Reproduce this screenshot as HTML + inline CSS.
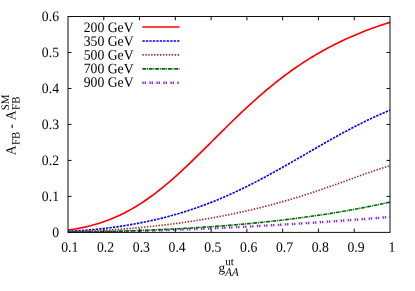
<!DOCTYPE html>
<html><head><meta charset="utf-8"><title>plot</title>
<style>
html,body{margin:0;padding:0;background:#fff;}
svg{display:block;will-change:transform;}
text{font-family:"Liberation Serif",serif;font-size:13.33px;fill:#000;}
</style></head><body>
<svg width="415" height="291" viewBox="0 0 415 291">
<rect width="415" height="291" fill="#fff"/>

<g transform="translate(69.80,251.75) matrix(1.03,0.0006,0,1.075,0,0)"><text text-anchor="middle">0.1</text></g>
<g transform="translate(105.58,251.75) matrix(1.03,0.0006,0,1.075,0,0)"><text text-anchor="middle">0.2</text></g>
<g transform="translate(141.36,251.75) matrix(1.03,0.0006,0,1.075,0,0)"><text text-anchor="middle">0.3</text></g>
<g transform="translate(177.13,251.75) matrix(1.03,0.0006,0,1.075,0,0)"><text text-anchor="middle">0.4</text></g>
<g transform="translate(212.91,251.75) matrix(1.03,0.0006,0,1.075,0,0)"><text text-anchor="middle">0.5</text></g>
<g transform="translate(248.69,251.75) matrix(1.03,0.0006,0,1.075,0,0)"><text text-anchor="middle">0.6</text></g>
<g transform="translate(284.47,251.75) matrix(1.03,0.0006,0,1.075,0,0)"><text text-anchor="middle">0.7</text></g>
<g transform="translate(320.24,251.75) matrix(1.03,0.0006,0,1.075,0,0)"><text text-anchor="middle">0.8</text></g>
<g transform="translate(356.02,251.75) matrix(1.03,0.0006,0,1.075,0,0)"><text text-anchor="middle">0.9</text></g>
<g transform="translate(391.80,251.75) matrix(1.03,0.0006,0,1.075,0,0)"><text text-anchor="middle">1</text></g>
<g transform="translate(59.00,236.90) matrix(1.03,0.0006,0,1.075,0,0)"><text text-anchor="end">0</text></g>
<g transform="translate(59.00,200.92) matrix(1.03,0.0006,0,1.075,0,0)"><text text-anchor="end">0.1</text></g>
<g transform="translate(59.00,164.93) matrix(1.03,0.0006,0,1.075,0,0)"><text text-anchor="end">0.2</text></g>
<g transform="translate(59.00,128.95) matrix(1.03,0.0006,0,1.075,0,0)"><text text-anchor="end">0.3</text></g>
<g transform="translate(59.00,92.97) matrix(1.03,0.0006,0,1.075,0,0)"><text text-anchor="end">0.4</text></g>
<g transform="translate(59.00,56.98) matrix(1.03,0.0006,0,1.075,0,0)"><text text-anchor="end">0.5</text></g>
<g transform="translate(59.00,21.00) matrix(1.03,0.0006,0,1.075,0,0)"><text text-anchor="end">0.6</text></g>
<g transform="translate(133.60,32.05) matrix(1.03,0.0006,0,1.075,0,0)"><text text-anchor="end">200 GeV</text></g>
<line x1="142.4" y1="27.00" x2="179.5" y2="27.00" stroke="#ff0000" stroke-width="1.65"/>
<g transform="translate(133.60,45.75) matrix(1.03,0.0006,0,1.075,0,0)"><text text-anchor="end">350 GeV</text></g>
<line x1="142.4" y1="40.95" x2="179.5" y2="40.95" stroke="#0000ff" stroke-width="1.65" stroke-dasharray="2.35 1.12"/>
<g transform="translate(133.60,59.45) matrix(1.03,0.0006,0,1.075,0,0)"><text text-anchor="end">500 GeV</text></g>
<line x1="142.4" y1="54.90" x2="179.5" y2="54.90" stroke="#a52a2a" stroke-width="1.65" stroke-dasharray="1.4 1.53"/>
<g transform="translate(133.60,73.15) matrix(1.03,0.0006,0,1.075,0,0)"><text text-anchor="end">700 GeV</text></g>
<line x1="142.4" y1="68.85" x2="179.5" y2="68.85" stroke="#006400" stroke-width="1.6" stroke-dasharray="3.8 0.8 1.0 0.8"/>
<g transform="translate(133.60,86.85) matrix(1.03,0.0006,0,1.075,0,0)"><text text-anchor="end">900 GeV</text></g>
<line x1="142.4" y1="82.80" x2="179.5" y2="82.80" stroke="#8a2be2" stroke-width="2.4" stroke-dasharray="1.4 0.8 1.4 3.4"/>
<defs><clipPath id="pc"><rect x="68.0" y="16.5" width="322.0" height="216.3"/></clipPath></defs>
<g clip-path="url(#pc)">
<path d="M68.00,230.09 L69.79,229.84 L71.58,229.57 L73.37,229.29 L75.16,228.99 L76.94,228.68 L78.73,228.35 L80.52,228.00 L82.31,227.63 L84.10,227.25 L85.89,226.85 L87.68,226.43 L89.47,225.99 L91.26,225.53 L93.04,225.05 L94.83,224.55 L96.62,224.03 L98.41,223.49 L100.20,222.92 L101.99,222.34 L103.78,221.73 L105.57,221.09 L107.36,220.44 L109.14,219.76 L110.93,219.06 L112.72,218.33 L114.51,217.57 L116.30,216.80 L118.09,215.99 L119.88,215.16 L121.67,214.31 L123.46,213.43 L125.24,212.52 L127.03,211.59 L128.82,210.63 L130.61,209.64 L132.40,208.62 L134.19,207.58 L135.98,206.52 L137.77,205.42 L139.56,204.30 L141.34,203.15 L143.13,201.98 L144.92,200.78 L146.71,199.55 L148.50,198.30 L150.29,197.02 L152.08,195.72 L153.87,194.39 L155.66,193.04 L157.44,191.66 L159.23,190.26 L161.02,188.83 L162.81,187.39 L164.60,185.92 L166.39,184.43 L168.18,182.92 L169.97,181.38 L171.76,179.83 L173.54,178.26 L175.33,176.67 L177.12,175.06 L178.91,173.44 L180.70,171.80 L182.49,170.14 L184.28,168.47 L186.07,166.79 L187.86,165.09 L189.64,163.39 L191.43,161.67 L193.22,159.94 L195.01,158.20 L196.80,156.45 L198.59,154.69 L200.38,152.93 L202.17,151.16 L203.96,149.39 L205.74,147.61 L207.53,145.83 L209.32,144.05 L211.11,142.27 L212.90,140.48 L214.69,138.70 L216.48,136.91 L218.27,135.13 L220.06,133.35 L221.84,131.57 L223.63,129.80 L225.42,128.03 L227.21,126.27 L229.00,124.51 L230.79,122.76 L232.58,121.02 L234.37,119.28 L236.16,117.55 L237.94,115.84 L239.73,114.13 L241.52,112.43 L243.31,110.75 L245.10,109.07 L246.89,107.41 L248.68,105.76 L250.47,104.12 L252.26,102.49 L254.04,100.88 L255.83,99.28 L257.62,97.70 L259.41,96.13 L261.20,94.57 L262.99,93.03 L264.78,91.50 L266.57,89.99 L268.36,88.50 L270.14,87.02 L271.93,85.55 L273.72,84.11 L275.51,82.68 L277.30,81.26 L279.09,79.86 L280.88,78.48 L282.67,77.11 L284.46,75.77 L286.24,74.43 L288.03,73.12 L289.82,71.82 L291.61,70.53 L293.40,69.27 L295.19,68.02 L296.98,66.78 L298.77,65.57 L300.56,64.37 L302.34,63.18 L304.13,62.02 L305.92,60.86 L307.71,59.73 L309.50,58.61 L311.29,57.50 L313.08,56.42 L314.87,55.34 L316.66,54.29 L318.44,53.24 L320.23,52.22 L322.02,51.21 L323.81,50.21 L325.60,49.23 L327.39,48.26 L329.18,47.31 L330.97,46.37 L332.76,45.45 L334.54,44.53 L336.33,43.64 L338.12,42.76 L339.91,41.89 L341.70,41.03 L343.49,40.19 L345.28,39.36 L347.07,38.54 L348.86,37.74 L350.64,36.94 L352.43,36.17 L354.22,35.40 L356.01,34.64 L357.80,33.90 L359.59,33.17 L361.38,32.45 L363.17,31.74 L364.96,31.04 L366.74,30.35 L368.53,29.67 L370.32,29.01 L372.11,28.35 L373.90,27.71 L375.69,27.07 L377.48,26.45 L379.27,25.83 L381.06,25.23 L382.84,24.63 L384.63,24.04 L386.42,23.47 L388.21,22.90 L390.00,22.34" fill="none" stroke="#ff0000" stroke-width="1.65"/>
<path d="M68.00,231.45 L69.79,231.35 L71.58,231.25 L73.37,231.14 L75.16,231.03 L76.94,230.91 L78.73,230.79 L80.52,230.66 L82.31,230.52 L84.10,230.38 L85.89,230.24 L87.68,230.08 L89.47,229.93 L91.26,229.77 L93.04,229.60 L94.83,229.42 L96.62,229.24 L98.41,229.06 L100.20,228.87 L101.99,228.67 L103.78,228.47 L105.57,228.26 L107.36,228.04 L109.14,227.82 L110.93,227.59 L112.72,227.36 L114.51,227.12 L116.30,226.87 L118.09,226.62 L119.88,226.36 L121.67,226.09 L123.46,225.81 L125.24,225.53 L127.03,225.25 L128.82,224.95 L130.61,224.65 L132.40,224.34 L134.19,224.02 L135.98,223.70 L137.77,223.36 L139.56,223.03 L141.34,222.68 L143.13,222.32 L144.92,221.96 L146.71,221.59 L148.50,221.21 L150.29,220.83 L152.08,220.43 L153.87,220.03 L155.66,219.62 L157.44,219.20 L159.23,218.77 L161.02,218.33 L162.81,217.89 L164.60,217.44 L166.39,216.97 L168.18,216.50 L169.97,216.02 L171.76,215.53 L173.54,215.03 L175.33,214.53 L177.12,214.01 L178.91,213.48 L180.70,212.95 L182.49,212.40 L184.28,211.85 L186.07,211.29 L187.86,210.71 L189.64,210.13 L191.43,209.54 L193.22,208.94 L195.01,208.33 L196.80,207.71 L198.59,207.08 L200.38,206.43 L202.17,205.78 L203.96,205.12 L205.74,204.46 L207.53,203.78 L209.32,203.09 L211.11,202.39 L212.90,201.68 L214.69,200.96 L216.48,200.23 L218.27,199.50 L220.06,198.75 L221.84,197.99 L223.63,197.22 L225.42,196.45 L227.21,195.66 L229.00,194.87 L230.79,194.06 L232.58,193.25 L234.37,192.43 L236.16,191.60 L237.94,190.76 L239.73,189.91 L241.52,189.05 L243.31,188.18 L245.10,187.31 L246.89,186.42 L248.68,185.53 L250.47,184.63 L252.26,183.73 L254.04,182.81 L255.83,181.89 L257.62,180.96 L259.41,180.02 L261.20,179.08 L262.99,178.13 L264.78,177.17 L266.57,176.20 L268.36,175.24 L270.14,174.26 L271.93,173.28 L273.72,172.29 L275.51,171.30 L277.30,170.30 L279.09,169.30 L280.88,168.29 L282.67,167.28 L284.46,166.27 L286.24,165.25 L288.03,164.23 L289.82,163.21 L291.61,162.18 L293.40,161.15 L295.19,160.12 L296.98,159.09 L298.77,158.05 L300.56,157.02 L302.34,155.98 L304.13,154.94 L305.92,153.91 L307.71,152.87 L309.50,151.83 L311.29,150.79 L313.08,149.76 L314.87,148.72 L316.66,147.69 L318.44,146.66 L320.23,145.63 L322.02,144.61 L323.81,143.58 L325.60,142.56 L327.39,141.55 L329.18,140.53 L330.97,139.53 L332.76,138.52 L334.54,137.52 L336.33,136.53 L338.12,135.54 L339.91,134.55 L341.70,133.57 L343.49,132.60 L345.28,131.64 L347.07,130.68 L348.86,129.72 L350.64,128.78 L352.43,127.84 L354.22,126.91 L356.01,125.99 L357.80,125.07 L359.59,124.16 L361.38,123.27 L363.17,122.38 L364.96,121.49 L366.74,120.62 L368.53,119.76 L370.32,118.90 L372.11,118.06 L373.90,117.23 L375.69,116.40 L377.48,115.58 L379.27,114.78 L381.06,113.98 L382.84,113.20 L384.63,112.42 L386.42,111.66 L388.21,110.91 L390.00,110.16" fill="none" stroke="#0000ff" stroke-width="1.65" stroke-dasharray="2.35 1.12"/>
<path d="M68.00,231.88 L69.79,231.83 L71.58,231.77 L73.37,231.71 L75.16,231.65 L76.94,231.59 L78.73,231.52 L80.52,231.45 L82.31,231.38 L84.10,231.30 L85.89,231.23 L87.68,231.15 L89.47,231.06 L91.26,230.98 L93.04,230.89 L94.83,230.80 L96.62,230.70 L98.41,230.61 L100.20,230.51 L101.99,230.40 L103.78,230.30 L105.57,230.19 L107.36,230.08 L109.14,229.96 L110.93,229.85 L112.72,229.73 L114.51,229.60 L116.30,229.48 L118.09,229.35 L119.88,229.22 L121.67,229.08 L123.46,228.95 L125.24,228.81 L127.03,228.66 L128.82,228.51 L130.61,228.36 L132.40,228.21 L134.19,228.06 L135.98,227.90 L137.77,227.73 L139.56,227.57 L141.34,227.40 L143.13,227.23 L144.92,227.05 L146.71,226.87 L148.50,226.69 L150.29,226.51 L152.08,226.32 L153.87,226.13 L155.66,225.93 L157.44,225.73 L159.23,225.53 L161.02,225.32 L162.81,225.12 L164.60,224.90 L166.39,224.69 L168.18,224.47 L169.97,224.24 L171.76,224.02 L173.54,223.79 L175.33,223.55 L177.12,223.32 L178.91,223.07 L180.70,222.83 L182.49,222.58 L184.28,222.33 L186.07,222.07 L187.86,221.81 L189.64,221.54 L191.43,221.28 L193.22,221.00 L195.01,220.73 L196.80,220.45 L198.59,220.16 L200.38,219.87 L202.17,219.58 L203.96,219.28 L205.74,218.98 L207.53,218.68 L209.32,218.37 L211.11,218.06 L212.90,217.74 L214.69,217.41 L216.48,217.09 L218.27,216.76 L220.06,216.42 L221.84,216.08 L223.63,215.74 L225.42,215.39 L227.21,215.03 L229.00,214.68 L230.79,214.31 L232.58,213.94 L234.37,213.57 L236.16,213.20 L237.94,212.81 L239.73,212.43 L241.52,212.04 L243.31,211.64 L245.10,211.24 L246.89,210.83 L248.68,210.42 L250.47,210.01 L252.26,209.59 L254.04,209.16 L255.83,208.73 L257.62,208.29 L259.41,207.85 L261.20,207.41 L262.99,206.95 L264.78,206.50 L266.57,206.04 L268.36,205.57 L270.14,205.10 L271.93,204.62 L273.72,204.14 L275.51,203.65 L277.30,203.16 L279.09,202.66 L280.88,202.16 L282.67,201.65 L284.46,201.14 L286.24,200.62 L288.03,200.10 L289.82,199.57 L291.61,199.04 L293.40,198.50 L295.19,197.96 L296.98,197.41 L298.77,196.86 L300.56,196.30 L302.34,195.74 L304.13,195.17 L305.92,194.60 L307.71,194.02 L309.50,193.44 L311.29,192.85 L313.08,192.26 L314.87,191.67 L316.66,191.07 L318.44,190.47 L320.23,189.86 L322.02,189.25 L323.81,188.63 L325.60,188.02 L327.39,187.39 L329.18,186.77 L330.97,186.14 L332.76,185.51 L334.54,184.88 L336.33,184.24 L338.12,183.61 L339.91,182.97 L341.70,182.32 L343.49,181.68 L345.28,181.04 L347.07,180.39 L348.86,179.75 L350.64,179.10 L352.43,178.45 L354.22,177.81 L356.01,177.16 L357.80,176.52 L359.59,175.88 L361.38,175.24 L363.17,174.60 L364.96,173.96 L366.74,173.33 L368.53,172.70 L370.32,172.08 L372.11,171.46 L373.90,170.85 L375.69,170.24 L377.48,169.64 L379.27,169.05 L381.06,168.46 L382.84,167.88 L384.63,167.31 L386.42,166.75 L388.21,166.21 L390.00,165.67" fill="none" stroke="#a52a2a" stroke-width="1.65" stroke-dasharray="1.4 1.53"/>
<path d="M68.00,232.24 L69.79,232.22 L71.58,232.20 L73.37,232.18 L75.16,232.17 L76.94,232.15 L78.73,232.12 L80.52,232.10 L82.31,232.08 L84.10,232.06 L85.89,232.03 L87.68,232.01 L89.47,231.98 L91.26,231.96 L93.04,231.93 L94.83,231.90 L96.62,231.87 L98.41,231.84 L100.20,231.81 L101.99,231.78 L103.78,231.75 L105.57,231.72 L107.36,231.68 L109.14,231.65 L110.93,231.61 L112.72,231.58 L114.51,231.54 L116.30,231.50 L118.09,231.46 L119.88,231.42 L121.67,231.38 L123.46,231.34 L125.24,231.30 L127.03,231.26 L128.82,231.22 L130.61,231.17 L132.40,231.13 L134.19,231.08 L135.98,231.03 L137.77,230.99 L139.56,230.94 L141.34,230.89 L143.13,230.84 L144.92,230.79 L146.71,230.74 L148.50,230.69 L150.29,230.63 L152.08,230.58 L153.87,230.53 L155.66,230.47 L157.44,230.42 L159.23,230.36 L161.02,230.30 L162.81,230.24 L164.60,230.18 L166.39,230.12 L168.18,230.06 L169.97,230.00 L171.76,229.94 L173.54,229.88 L175.33,229.81 L177.12,229.75 L178.91,229.68 L180.70,229.62 L182.49,229.55 L184.28,229.48 L186.07,229.42 L187.86,229.35 L189.64,229.28 L191.43,229.21 L193.22,229.13 L195.01,229.06 L196.80,228.99 L198.59,228.92 L200.38,228.84 L202.17,228.77 L203.96,228.69 L205.74,228.61 L207.53,228.54 L209.32,228.46 L211.11,228.38 L212.90,228.30 L214.69,228.22 L216.48,228.14 L218.27,228.06 L220.06,227.97 L221.84,227.89 L223.63,227.81 L225.42,227.72 L227.21,227.64 L229.00,227.55 L230.79,227.46 L232.58,227.37 L234.37,227.29 L236.16,227.20 L237.94,227.11 L239.73,227.02 L241.52,226.92 L243.31,226.83 L245.10,226.74 L246.89,226.65 L248.68,226.55 L250.47,226.46 L252.26,226.36 L254.04,226.26 L255.83,226.17 L257.62,226.07 L259.41,225.97 L261.20,225.87 L262.99,225.77 L264.78,225.67 L266.57,225.57 L268.36,225.47 L270.14,225.36 L271.93,225.26 L273.72,225.16 L275.51,225.05 L277.30,224.95 L279.09,224.84 L280.88,224.73 L282.67,224.63 L284.46,224.52 L286.24,224.41 L288.03,224.30 L289.82,224.19 L291.61,224.08 L293.40,223.97 L295.19,223.85 L296.98,223.74 L298.77,223.63 L300.56,223.51 L302.34,223.40 L304.13,223.28 L305.92,223.17 L307.71,223.05 L309.50,222.93 L311.29,222.81 L313.08,222.69 L314.87,222.57 L316.66,222.45 L318.44,222.33 L320.23,222.21 L322.02,222.09 L323.81,221.97 L325.60,221.84 L327.39,221.72 L329.18,221.59 L330.97,221.47 L332.76,221.34 L334.54,221.22 L336.33,221.09 L338.12,220.96 L339.91,220.83 L341.70,220.70 L343.49,220.57 L345.28,220.44 L347.07,220.31 L348.86,220.18 L350.64,220.05 L352.43,219.92 L354.22,219.78 L356.01,219.65 L357.80,219.52 L359.59,219.38 L361.38,219.24 L363.17,219.11 L364.96,218.97 L366.74,218.83 L368.53,218.70 L370.32,218.56 L372.11,218.42 L373.90,218.28 L375.69,218.14 L377.48,218.00 L379.27,217.86 L381.06,217.71 L382.84,217.57 L384.63,217.43 L386.42,217.29 L388.21,217.14 L390.00,217.00" fill="none" stroke="#8a2be2" stroke-width="2.4" stroke-dasharray="1.4 0.8 1.4 3.4"/>
<path d="M68.00,232.19 L69.79,232.17 L71.58,232.15 L73.37,232.13 L75.16,232.10 L76.94,232.08 L78.73,232.05 L80.52,232.02 L82.31,232.00 L84.10,231.97 L85.89,231.94 L87.68,231.90 L89.47,231.87 L91.26,231.84 L93.04,231.80 L94.83,231.77 L96.62,231.73 L98.41,231.69 L100.20,231.65 L101.99,231.61 L103.78,231.57 L105.57,231.52 L107.36,231.48 L109.14,231.43 L110.93,231.39 L112.72,231.34 L114.51,231.29 L116.30,231.24 L118.09,231.19 L119.88,231.14 L121.67,231.08 L123.46,231.03 L125.24,230.97 L127.03,230.92 L128.82,230.86 L130.61,230.80 L132.40,230.74 L134.19,230.68 L135.98,230.61 L137.77,230.55 L139.56,230.48 L141.34,230.41 L143.13,230.35 L144.92,230.28 L146.71,230.20 L148.50,230.13 L150.29,230.06 L152.08,229.98 L153.87,229.91 L155.66,229.83 L157.44,229.75 L159.23,229.67 L161.02,229.59 L162.81,229.50 L164.60,229.42 L166.39,229.33 L168.18,229.24 L169.97,229.16 L171.76,229.07 L173.54,228.97 L175.33,228.88 L177.12,228.78 L178.91,228.69 L180.70,228.59 L182.49,228.49 L184.28,228.39 L186.07,228.29 L187.86,228.18 L189.64,228.08 L191.43,227.97 L193.22,227.86 L195.01,227.75 L196.80,227.64 L198.59,227.52 L200.38,227.41 L202.17,227.29 L203.96,227.17 L205.74,227.05 L207.53,226.93 L209.32,226.80 L211.11,226.68 L212.90,226.55 L214.69,226.42 L216.48,226.29 L218.27,226.16 L220.06,226.02 L221.84,225.88 L223.63,225.75 L225.42,225.61 L227.21,225.46 L229.00,225.32 L230.79,225.17 L232.58,225.02 L234.37,224.87 L236.16,224.72 L237.94,224.57 L239.73,224.41 L241.52,224.25 L243.31,224.09 L245.10,223.93 L246.89,223.77 L248.68,223.60 L250.47,223.43 L252.26,223.26 L254.04,223.09 L255.83,222.92 L257.62,222.74 L259.41,222.56 L261.20,222.38 L262.99,222.19 L264.78,222.01 L266.57,221.82 L268.36,221.63 L270.14,221.44 L271.93,221.24 L273.72,221.05 L275.51,220.85 L277.30,220.64 L279.09,220.44 L280.88,220.23 L282.67,220.02 L284.46,219.81 L286.24,219.60 L288.03,219.38 L289.82,219.16 L291.61,218.94 L293.40,218.71 L295.19,218.49 L296.98,218.26 L298.77,218.02 L300.56,217.79 L302.34,217.55 L304.13,217.31 L305.92,217.07 L307.71,216.82 L309.50,216.57 L311.29,216.32 L313.08,216.07 L314.87,215.81 L316.66,215.55 L318.44,215.29 L320.23,215.02 L322.02,214.75 L323.81,214.48 L325.60,214.21 L327.39,213.93 L329.18,213.65 L330.97,213.36 L332.76,213.08 L334.54,212.79 L336.33,212.49 L338.12,212.20 L339.91,211.90 L341.70,211.59 L343.49,211.29 L345.28,210.98 L347.07,210.67 L348.86,210.35 L350.64,210.03 L352.43,209.71 L354.22,209.38 L356.01,209.05 L357.80,208.72 L359.59,208.38 L361.38,208.04 L363.17,207.70 L364.96,207.35 L366.74,207.00 L368.53,206.65 L370.32,206.29 L372.11,205.93 L373.90,205.57 L375.69,205.20 L377.48,204.82 L379.27,204.45 L381.06,204.07 L382.84,203.68 L384.63,203.30 L386.42,202.90 L388.21,202.51 L390.00,202.11" fill="none" stroke="#006400" stroke-width="1.6" stroke-dasharray="3.8 0.8 1.0 0.8"/>
</g>
<g stroke="#000" stroke-width="0.95" fill="none">
<line x1="68.0" y1="16.0" x2="68.0" y2="232.9"/>
<line x1="390.0" y1="16.0" x2="390.0" y2="232.9"/>
<line x1="68.0" y1="16.5" x2="390.0" y2="16.5"/>
<line x1="68.0" y1="232.4" x2="390.0" y2="232.4"/>
<line x1="103.78" y1="232.4" x2="103.78" y2="228.6"/>
<line x1="103.78" y1="16.5" x2="103.78" y2="20.3"/>
<line x1="139.56" y1="232.4" x2="139.56" y2="228.6"/>
<line x1="139.56" y1="16.5" x2="139.56" y2="20.3"/>
<line x1="175.33" y1="232.4" x2="175.33" y2="228.6"/>
<line x1="175.33" y1="16.5" x2="175.33" y2="20.3"/>
<line x1="211.11" y1="232.4" x2="211.11" y2="228.6"/>
<line x1="211.11" y1="16.5" x2="211.11" y2="20.3"/>
<line x1="246.89" y1="232.4" x2="246.89" y2="228.6"/>
<line x1="246.89" y1="16.5" x2="246.89" y2="20.3"/>
<line x1="282.67" y1="232.4" x2="282.67" y2="228.6"/>
<line x1="282.67" y1="16.5" x2="282.67" y2="20.3"/>
<line x1="318.44" y1="232.4" x2="318.44" y2="228.6"/>
<line x1="318.44" y1="16.5" x2="318.44" y2="20.3"/>
<line x1="354.22" y1="232.4" x2="354.22" y2="228.6"/>
<line x1="354.22" y1="16.5" x2="354.22" y2="20.3"/>
<line x1="68.0" y1="196.42" x2="71.5" y2="196.42"/>
<line x1="390.0" y1="196.42" x2="386.5" y2="196.42"/>
<line x1="68.0" y1="160.43" x2="71.5" y2="160.43"/>
<line x1="390.0" y1="160.43" x2="386.5" y2="160.43"/>
<line x1="68.0" y1="124.45" x2="71.5" y2="124.45"/>
<line x1="390.0" y1="124.45" x2="386.5" y2="124.45"/>
<line x1="68.0" y1="88.47" x2="71.5" y2="88.47"/>
<line x1="390.0" y1="88.47" x2="386.5" y2="88.47"/>
<line x1="68.0" y1="52.48" x2="71.5" y2="52.48"/>
<line x1="390.0" y1="52.48" x2="386.5" y2="52.48"/>
</g>
<g transform="translate(218.60,271.85) matrix(1.0,0.0006,0,0.955,0,0)"><text>g</text></g>
<g transform="translate(225.30,265.30) matrix(1.03,0.0006,0,1.075,0,0)"><text style="font-size:10.67px">ut</text></g>
<g transform="translate(225.30,275.70) matrix(1.03,0.0006,0,1.075,0,0)"><text style="font-size:10.67px;font-style:italic">AA</text></g>
<g transform="translate(15.40,155.20) rotate(-90) matrix(1.025,0.0006,0,1.07,0,0)"><text>A</text></g>
<g transform="translate(19.40,144.95) rotate(-90) matrix(1.025,0.0006,0,1.07,0,0)"><text style="font-size:10.67px">FB</text></g>
<g transform="translate(15.40,128.60) rotate(-90) matrix(1.025,0.0006,0,1.07,0,0)"><text>-</text></g>
<g transform="translate(15.40,120.35) rotate(-90) matrix(1.025,0.0006,0,1.07,0,0)"><text>A</text></g>
<g transform="translate(19.40,109.89) rotate(-90) matrix(1.025,0.0006,0,1.07,0,0)"><text style="font-size:10.67px">FB</text></g>
<g transform="translate(8.90,110.30) rotate(-90) matrix(1.025,0.0006,0,1.07,0,0)"><text style="font-size:10.67px">SM</text></g>
</svg></body></html>
